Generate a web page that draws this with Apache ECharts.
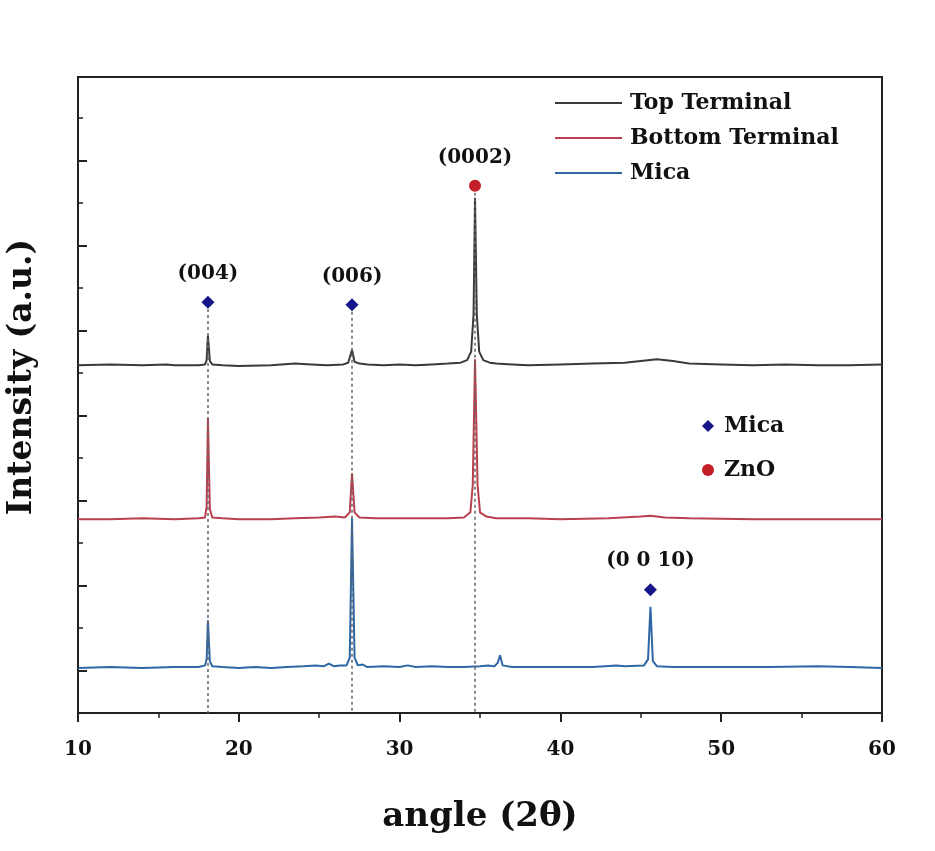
<!DOCTYPE html>
<html>
<head>
<meta charset="utf-8">
<script src="https://cdn.jsdelivr.net/npm/echarts@6/dist/echarts.min.js"></script>
<style>
html,body{margin:0;padding:0;background:#fff;}
#c{width:935px;height:851px;}
</style>
</head>
<body>
<div id="c"></div>
<script>
// ---- data (2θ in degrees, intensity in arbitrary units) ----
const seriesNames = ['Top Terminal', 'Bottom Terminal', 'Mica'];
const baselineOffsets = [359, 178, 3];

const topX = [10, 12, 14, 15.5, 16, 17.5, 17.9, 18.0, 18.08, 18.2, 18.35, 19, 20, 22, 23.5, 24.5, 25.5, 26.5, 26.8, 27.04, 27.2, 27.5, 28, 29, 30, 31, 32, 33, 33.8, 34.2, 34.45, 34.6, 34.69, 34.8, 34.95, 35.2, 35.6, 36, 37, 38, 40, 42, 44, 45, 46, 47, 48, 50, 52, 54, 56, 58, 60];
const topY = [0, 1, 0, 1, 0, 0, 1, 6, 35, 5, 1, 0, -1, 0, 2, 1, 0, 1, 3, 18, 4, 2, 1, 0, 1, 0, 1, 2, 3, 6, 16, 60, 197, 60, 16, 6, 3, 2, 1, 0, 1, 2, 3, 5, 7, 5, 2, 1, 0, 1, 0, 0, 1];

const bottomX = [10, 12, 14, 16, 17.5, 17.9, 18.0, 18.08, 18.2, 18.35, 19, 20, 22, 23.5, 25, 26, 26.6, 26.9, 27.04, 27.2, 27.5, 28.5, 30, 32, 33, 34, 34.4, 34.55, 34.69, 34.85, 35.0, 35.4, 36, 38, 40, 43, 45, 45.6, 46.5, 48, 52, 56, 60];
const bottomY = [0, 0, 1, 0, 1, 2, 15, 119, 12, 2, 1, 0, 0, 1, 2, 3, 2, 8, 54, 8, 2, 1, 1, 1, 1, 2, 8, 40, 188, 40, 8, 3, 1, 1, 0, 1, 3, 4, 2, 1, 0, 0, 0];

const micaX = [10, 12, 14, 16, 17.5, 17.9, 18.0, 18.08, 18.2, 18.35, 19, 20, 21, 22, 23, 24, 24.8, 25.3, 25.6, 25.9, 26.3, 26.7, 26.9, 27.04, 27.2, 27.4, 27.7, 28, 29, 30, 30.5, 31, 32, 33, 34, 35, 35.5, 35.9, 36.1, 36.25, 36.4, 37, 38, 40, 42, 43.5, 44, 45.2, 45.45, 45.6, 45.75, 46, 47, 50, 53, 56, 58, 60];
const micaY = [0, 1, 0, 1, 1, 3, 10, 56, 8, 2, 1, 0, 1, 0, 1, 2, 3, 2, 5, 2, 3, 3, 12, 176, 12, 3, 4, 1, 2, 1, 3, 1, 2, 1, 1, 2, 3, 2, 6, 15, 3, 1, 1, 1, 1, 3, 2, 3, 10, 72, 8, 2, 1, 1, 1, 2, 1, 0];

// peak markers
const micaPeakX = [18.08, 27.04, 45.6];
const micaPeakY = [433, 430, 95];
const micaPeakLabels = ['(004)', '(006)', '(0 0 10)'];
const znoPeakX = [34.69];
const znoPeakY = [570];
const znoPeakLabels = ['(0002)'];
// dashed guide lines (x positions and their upper ends)
const guideX = [18.08, 27.04, 34.69];
const guideTopY = [433, 430, 570];

const xTicks = [10, 20, 30, 40, 50, 60];

// ---- chart ----
const FONT = 'DejaVu Serif';
const colors = ['#3a3a3a', '#b8404f', '#2f67a5'];
const xs = [topX, bottomX, micaX];
const ys = [topY, bottomY, micaY];

const lineSeries = seriesNames.map((n, i) => ({
  name: n,
  type: 'line',
  yAxisIndex: 0,
  symbol: 'none',
  showSymbol: false,
  smooth: false,
  z: [4, 3, 2][i],
  color: colors[i],
  lineStyle: { width: 2, color: colors[i] },
  data: xs[i].map((x, k) => [x, ys[i][k] + baselineOffsets[i]])
}));

const yMin = -50, yMax = 698;

const option = {
  animation: false,
  backgroundColor: '#fff',
  grid: { left: 78, right: 53, top: 77, bottom: 138, show: true, borderColor: '#222', borderWidth: 2, backgroundColor: 'transparent' },
  legend: [
    {
      data: seriesNames.map(n => ({ name: n, icon: 'rect' })),
      orient: 'vertical',
      left: 550, top: 87,
      itemWidth: 67, itemHeight: 2, itemGap: 13,
      textStyle: { fontFamily: FONT, fontWeight: 'bold', fontSize: 22, color: '#111', padding: [0, 0, 0, 3] }
    },
    {
      data: [{ name: 'Mica marks', icon: 'diamond' }, { name: 'ZnO marks', icon: 'circle' }],
      orient: 'vertical',
      left: 697, top: 410,
      itemWidth: 12, itemHeight: 12, itemGap: 22,
      formatter: n => n.replace(' marks', ''),
      textStyle: { fontFamily: FONT, fontWeight: 'bold', fontSize: 22, color: '#111', padding: [0, 0, 0, 5] }
    }
  ],
  xAxis: {
    type: 'value', min: 10, max: 60, interval: 10,
    name: 'angle (2θ)', nameLocation: 'middle', nameGap: 87,
    nameTextStyle: { fontFamily: FONT, fontWeight: 'bold', fontSize: 34, color: '#111' },
    axisLine: { show: true, onZero: false, lineStyle: { color: '#222', width: 2 } },
    axisTick: { show: true, inside: false, length: 9, lineStyle: { color: '#222', width: 2 } },
    minorTick: { show: true, splitNumber: 2, length: 5, lineStyle: { color: '#222', width: 1.5 } },
    axisLabel: { fontFamily: FONT, fontWeight: 'bold', fontSize: 20, color: '#111', margin: 27,
      formatter: v => xTicks.includes(v) ? String(v) : '' },
    splitLine: { show: false }
  },
  yAxis: [
    {
      type: 'value', min: yMin, max: yMax, minInterval: 100, maxInterval: 100,
      axisLine: { show: true, onZero: false, lineStyle: { color: '#222', width: 2 } },
      axisTick: { show: true, inside: true, length: 9, lineStyle: { color: '#222', width: 2 } },
      axisLabel: { show: false },
      splitLine: { show: false }
    },
    {
      type: 'value', position: 'left', min: yMin, max: yMax, interval: 100,
      axisLine: { show: false, onZero: false },
      axisTick: { show: true, inside: true, length: 5, lineStyle: { color: '#222', width: 1.5 } },
      axisLabel: { show: false },
      splitLine: { show: false }
    }
  ],
  graphic: [
    {
      type: 'text', x: 22, y: 377, rotation: Math.PI / 2,
      style: { text: 'Intensity (a.u.)', fontFamily: FONT, fontWeight: 'bold', fontSize: 33, fill: '#111', align: 'center', verticalAlign: 'middle' }
    }
  ],
  series: [
    ...lineSeries,
    {
      name: 'Mica marks', type: 'scatter', yAxisIndex: 0, symbol: 'diamond', symbolSize: 13, z: 6,
      itemStyle: { color: '#16168a', opacity: 1 },
      label: { show: true, position: 'top', distance: 12, fontFamily: FONT, fontWeight: 'bold', fontSize: 20, color: '#111',
        formatter: p => micaPeakLabels[p.dataIndex] },
      data: micaPeakX.map((x, k) => [x, micaPeakY[k]])
    },
    {
      name: 'ZnO marks', type: 'scatter', yAxisIndex: 0, symbol: 'circle', symbolSize: 12, z: 6,
      itemStyle: { color: '#c41e28', opacity: 1 },
      label: { show: true, position: 'top', distance: 12, fontFamily: FONT, fontWeight: 'bold', fontSize: 20, color: '#111',
        formatter: p => znoPeakLabels[p.dataIndex] },
      data: znoPeakX.map((x, k) => [x, znoPeakY[k]])
    },
    {
      name: 'guides', type: 'line', yAxisIndex: 0, symbol: 'none', z: 1, silent: true,
      data: [],
      markLine: {
        silent: true, symbol: ['none', 'none'], label: { show: false },
        lineStyle: { color: '#666', type: [3, 3], width: 1.5 },
        data: guideX.map((x, k) => [{ coord: [x, guideTopY[k] - 8] }, { coord: [x, yMin] }])
      }
    }
  ]
};

const chart = echarts.init(document.getElementById('c'), null, { renderer: 'canvas' });
chart.setOption(option);
</script>
</body>
</html>
